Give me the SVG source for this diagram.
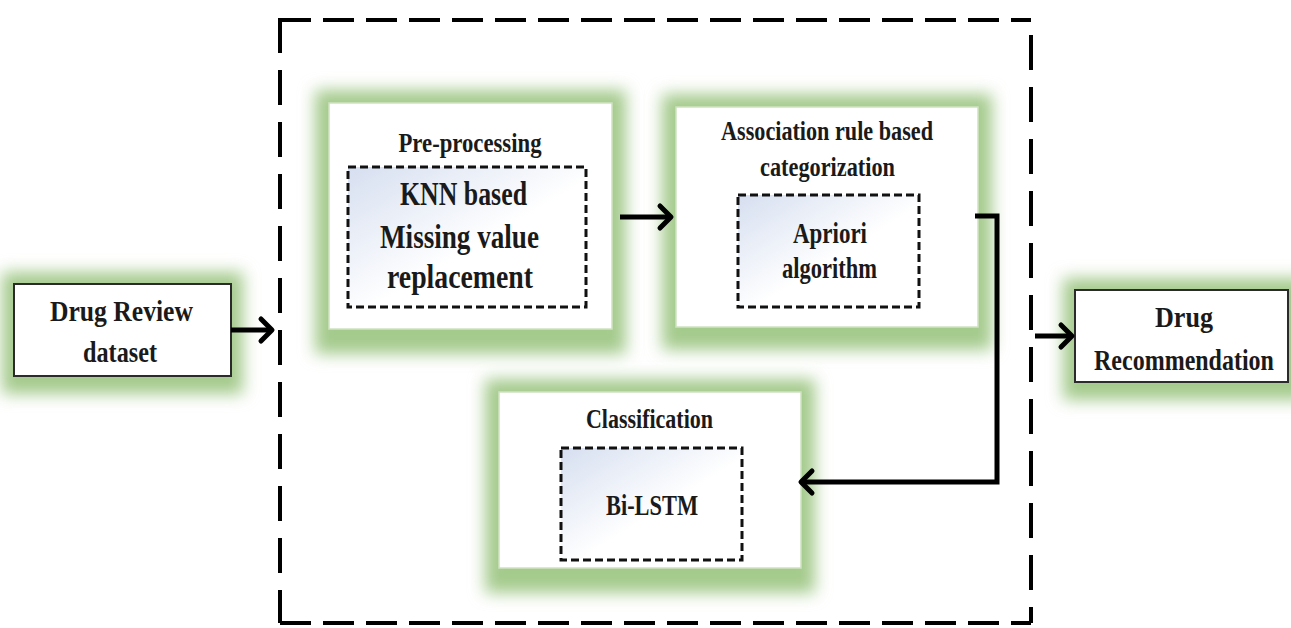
<svg xmlns="http://www.w3.org/2000/svg" width="1291" height="628" viewBox="0 0 1291 628">
  <style>
    .t { font-family: "Liberation Serif", "Times New Roman", serif; font-weight: bold; fill: #1a1a1a; text-anchor: middle; }
    .glow { fill: #a4ca8c; filter: url(#soft); }
    .card { fill: #ffffff; stroke: #cfe2c2; stroke-width: 1.5; }
    .io { fill: #ffffff; stroke: #2b2b2b; stroke-width: 2; }
    .inner { fill: url(#innerFill); stroke: #111; stroke-width: 3; stroke-dasharray: 8 4; }
    .frame { stroke: #000; stroke-width: 4; fill: none; }
    .link { stroke: #000; stroke-width: 5; fill: none; }
  </style>
  <defs>
    <filter id="soft" x="-30%" y="-30%" width="160%" height="160%">
      <feGaussianBlur stdDeviation="8"/>
    </filter>
    <linearGradient id="innerFill" x1="0" y1="0" x2="1" y2="1">
      <stop offset="0" stop-color="#d6dff0"/>
      <stop offset="0.55" stop-color="#ffffff"/>
    </linearGradient>
    <marker id="chev" markerUnits="userSpaceOnUse" viewBox="-16 -16 20 32" refX="0" refY="0" markerWidth="20" markerHeight="32" orient="auto" overflow="visible">
      <path d="M-11,-11 L0,0 L-11,11" fill="none" stroke="#000" stroke-width="5" stroke-linejoin="round" stroke-linecap="round"/>
    </marker>
  </defs>

  <rect width="1291" height="628" fill="#ffffff"/>

  <!-- dashed system boundary -->
  <g id="boundary">
    <line class="frame" x1="280" y1="20" x2="1031" y2="20" stroke-dasharray="31 12"/>
    <line class="frame" x1="280" y1="623" x2="1031" y2="623" stroke-dasharray="31 12"/>
    <line class="frame" x1="280" y1="18" x2="280" y2="623" stroke-dasharray="35 17"/>
    <line class="frame" x1="1031" y1="35" x2="1031" y2="623" stroke-dasharray="35 17"/>
  </g>

  <!-- input -->
  <g id="drug-review">
    <rect class="glow" x="2" y="272" width="241" height="122"/>
    <rect class="io" x="14" y="284" width="217" height="92"/>
    <text class="t" x="121.5" y="321" font-size="30" textLength="143" lengthAdjust="spacingAndGlyphs">Drug Review</text>
    <text class="t" x="120" y="362" font-size="30" textLength="74" lengthAdjust="spacingAndGlyphs">dataset</text>
  </g>

  <!-- pre-processing -->
  <g id="preprocessing">
    <rect class="glow" x="315" y="90" width="311" height="264"/>
    <rect class="card" x="329" y="103" width="283" height="226"/>
    <text class="t" x="470" y="152" font-size="27" textLength="143" lengthAdjust="spacingAndGlyphs">Pre-processing</text>
    <rect class="inner" x="348" y="167" width="238" height="140"/>
    <text class="t" x="463.5" y="205" font-size="33" textLength="127" lengthAdjust="spacingAndGlyphs">KNN based</text>
    <text class="t" x="459.5" y="248" font-size="33" textLength="159" lengthAdjust="spacingAndGlyphs">Missing value</text>
    <text class="t" x="460" y="288" font-size="33" textLength="146" lengthAdjust="spacingAndGlyphs">replacement</text>
  </g>

  <!-- association rules -->
  <g id="association">
    <rect class="glow" x="662" y="94" width="330" height="256"/>
    <rect class="card" x="676" y="107" width="302" height="220"/>
    <text class="t" x="827" y="140" font-size="27" textLength="212" lengthAdjust="spacingAndGlyphs">Association rule based</text>
    <text class="t" x="827.5" y="176" font-size="27" textLength="135" lengthAdjust="spacingAndGlyphs">categorization</text>
    <rect class="inner" x="738" y="195" width="181" height="112"/>
    <text class="t" x="830" y="243" font-size="29" textLength="74" lengthAdjust="spacingAndGlyphs">Apriori</text>
    <text class="t" x="829.5" y="278" font-size="29" textLength="95" lengthAdjust="spacingAndGlyphs">algorithm</text>
  </g>

  <!-- classification -->
  <g id="classification">
    <rect class="glow" x="485" y="379" width="330" height="214"/>
    <rect class="card" x="499" y="392" width="302" height="176"/>
    <text class="t" x="649.5" y="428" font-size="27" textLength="127" lengthAdjust="spacingAndGlyphs">Classification</text>
    <rect class="inner" x="561" y="448" width="181" height="112"/>
    <text class="t" x="652" y="515" font-size="30" textLength="92" lengthAdjust="spacingAndGlyphs">Bi-LSTM</text>
  </g>

  <!-- output -->
  <g id="drug-recommendation">
    <rect class="glow" x="1063" y="278" width="245" height="122"/>
    <rect class="io" x="1075" y="290" width="213" height="92"/>
    <text class="t" x="1184" y="327" font-size="30" textLength="58" lengthAdjust="spacingAndGlyphs">Drug</text>
    <!-- narrow the long word with a horizontal squeeze so its box stays inside the frame -->
    <text class="t" transform="translate(1184,370) scale(0.8,1)" x="0" y="0" font-size="30">Recommendation</text>
  </g>

  <!-- connectors -->
  <g id="connectors">
    <line class="link" x1="231" y1="330" x2="272" y2="330" marker-end="url(#chev)"/>
    <line class="link" x1="620" y1="217" x2="671" y2="217" marker-end="url(#chev)"/>
    <path class="link" d="M975,216 H997 V482 H801" stroke-width="4.5" marker-end="url(#chev)"/>
    <line class="link" x1="1035" y1="336" x2="1072" y2="336" marker-end="url(#chev)"/>
  </g>
</svg>
